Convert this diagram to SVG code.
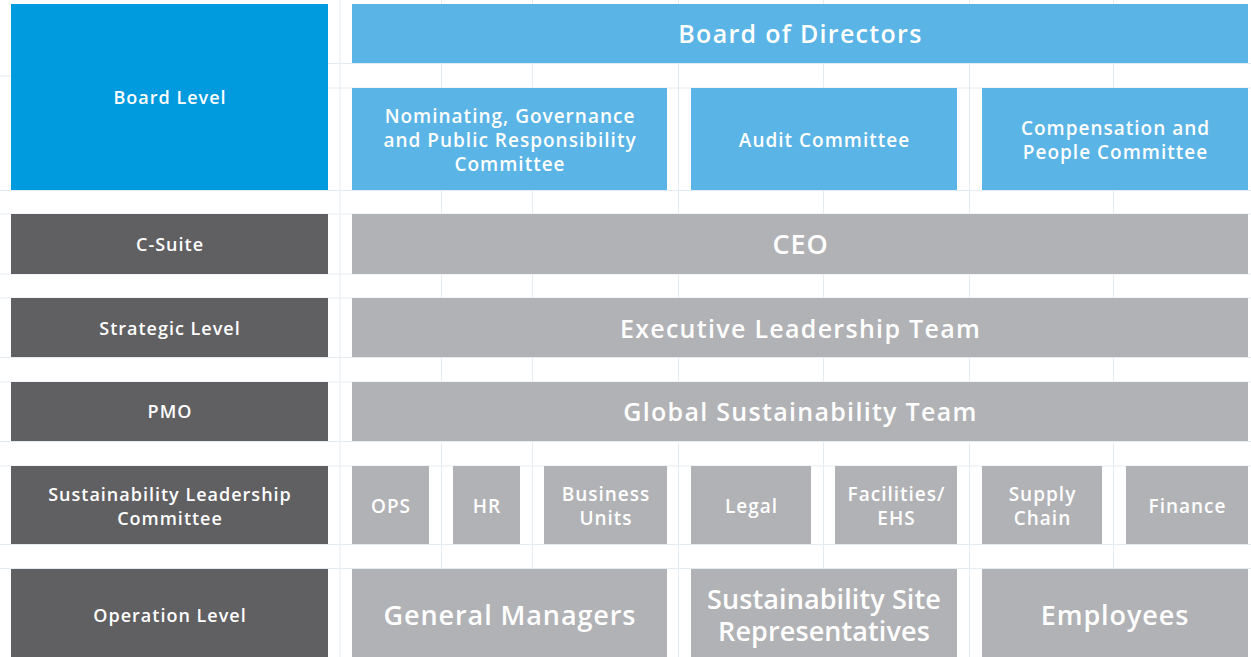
<svg xmlns="http://www.w3.org/2000/svg" width="1251" height="657" viewBox="0 0 1251 657">
<style>
.lvl{fill:#606062}
.blv{fill:#009ade}
.lb{fill:#5ab4e6}
.gr{fill:#b1b2b5}
.grid line{stroke:#e4ecf2;stroke-width:1}
text{font-family:"Open Sans","Liberation Sans",sans-serif;font-weight:600;fill:#ffffff;text-anchor:middle;dominant-baseline:central}
.s{font-size:18px;letter-spacing:1px}
.m{font-size:19px;letter-spacing:1px}
.l{font-size:25px;letter-spacing:1.3px}
.xl{font-size:27px;letter-spacing:0.9px}
.xl2{font-size:27px;letter-spacing:0.1px}
</style>
<rect width="1251" height="657" fill="#ffffff"/>
<g class="grid">
<line x1="0" y1="76" x2="11" y2="76"/>
<line x1="328" y1="63.5" x2="1251" y2="63.5"/>
<line x1="328" y1="88" x2="1251" y2="88"/>
<line x1="0" y1="190.5" x2="1251" y2="190.5"/>
<line x1="0" y1="214" x2="1251" y2="214"/>
<line x1="0" y1="274" x2="1251" y2="274"/>
<line x1="0" y1="298" x2="1251" y2="298"/>
<line x1="0" y1="357.5" x2="1251" y2="357.5"/>
<line x1="0" y1="382" x2="1251" y2="382"/>
<line x1="0" y1="441.5" x2="1251" y2="441.5"/>
<line x1="0" y1="466" x2="1251" y2="466"/>
<line x1="0" y1="544.5" x2="1251" y2="544.5"/>
<line x1="0" y1="568.5" x2="1251" y2="568.5"/>
<line x1="340" y1="0" x2="340" y2="657"/>
<line x1="441.5" y1="0" x2="441.5" y2="657"/>
<line x1="532.5" y1="0" x2="532.5" y2="657"/>
<line x1="678.5" y1="0" x2="678.5" y2="657"/>
<line x1="823.5" y1="0" x2="823.5" y2="657"/>
<line x1="969.5" y1="0" x2="969.5" y2="657"/>
<line x1="1113.5" y1="0" x2="1113.5" y2="657"/>
</g>
<g id="board-level"><rect class="blv" x="11" y="4" width="317" height="186"/><text class="s" x="170" y="97">Board Level</text></g>
<g id="board-of-directors"><rect class="lb" x="352" y="4" width="896" height="59"/><text class="l" x="800.5" y="33">Board of Directors</text></g>
<g id="nominating"><rect class="lb" x="352" y="88" width="315" height="102"/><text class="m" x="510" y="116">Nominating, Governance</text><text class="m" x="510" y="140">and Public Responsibility</text><text class="m" x="510" y="164">Committee</text></g>
<g id="audit"><rect class="lb" x="691" y="88" width="266" height="102"/><text class="m" x="824.5" y="140">Audit Committee</text></g>
<g id="compensation"><rect class="lb" x="982" y="88" width="266" height="102"/><text class="m" x="1115.5" y="128">Compensation and</text><text class="m" x="1115.5" y="152">People Committee</text></g>
<g id="c-suite"><rect class="lvl" x="11" y="214" width="317" height="60"/><text class="s" x="170" y="244">C-Suite</text></g>
<g id="ceo"><rect class="gr" x="352" y="214" width="896" height="60"/><text class="xl" x="800.5" y="243">CEO</text></g>
<g id="strategic-level"><rect class="lvl" x="11" y="298" width="317" height="59"/><text class="s" x="170" y="328">Strategic Level</text></g>
<g id="elt"><rect class="gr" x="352" y="298" width="896" height="59"/><text class="l" x="800.5" y="328">Executive Leadership Team</text></g>
<g id="pmo"><rect class="lvl" x="11" y="382" width="317" height="59"/><text class="s" x="170" y="411">PMO</text></g>
<g id="gst"><rect class="gr" x="352" y="382" width="896" height="59"/><text class="l" x="800.5" y="411">Global Sustainability Team</text></g>
<g id="slc"><rect class="lvl" x="11" y="466" width="317" height="78"/><text class="s" x="170" y="494">Sustainability Leadership</text><text class="s" x="170" y="518">Committee</text></g>
<g id="ops"><rect class="gr" x="352" y="466" width="77" height="78"/><text class="m" x="391" y="506">OPS</text></g>
<g id="hr"><rect class="gr" x="453" y="466" width="67" height="78"/><text class="m" x="487" y="506">HR</text></g>
<g id="bu"><rect class="gr" x="544" y="466" width="123" height="78"/><text class="m" x="606" y="494">Business</text><text class="m" x="606" y="518">Units</text></g>
<g id="legal"><rect class="gr" x="691" y="466" width="120" height="78"/><text class="m" x="751.5" y="506">Legal</text></g>
<g id="facilities"><rect class="gr" x="835" y="466" width="122" height="78"/><text class="m" x="896.5" y="494">Facilities/</text><text class="m" x="896.5" y="518">EHS</text></g>
<g id="supply"><rect class="gr" x="982" y="466" width="120" height="78"/><text class="m" x="1042.5" y="494">Supply</text><text class="m" x="1042.5" y="518">Chain</text></g>
<g id="finance"><rect class="gr" x="1126" y="466" width="122" height="78"/><text class="m" x="1187.5" y="506">Finance</text></g>
<g id="operation-level"><rect class="lvl" x="11" y="569" width="317" height="88"/><text class="s" x="170" y="615">Operation Level</text></g>
<g id="gm"><rect class="gr" x="352" y="569" width="315" height="88"/><text class="xl" x="510" y="614">General Managers</text></g>
<g id="ssr"><rect class="gr" x="691" y="569" width="266" height="88"/><text class="xl2" x="824" y="598">Sustainability Site</text><text class="xl2" x="824" y="630">Representatives</text></g>
<g id="employees"><rect class="gr" x="982" y="569" width="266" height="88"/><text class="xl" x="1115" y="614">Employees</text></g>
</svg>
